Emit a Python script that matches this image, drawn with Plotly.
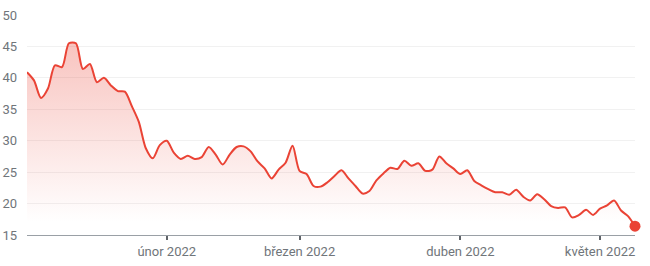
import pandas as pd
import plotly.graph_objects as go

# Trading days Jan 3 - May 9, 2022 (US market holidays removed)
holidays = ["2022-01-17", "2022-02-21", "2022-04-15"]
dates = [d.strftime("%Y-%m-%d") for d in pd.bdate_range("2022-01-03", "2022-05-09") if d.strftime("%Y-%m-%d") not in holidays]

values = [
    40.9, 39.6, 36.8, 38.3, 42.0, 41.7, 45.5, 45.5, 41.4, 42.2,
    39.3, 40.0, 38.8, 37.9, 37.8, 35.5, 33.0, 28.8, 27.2, 29.3,
    30.0, 28.1, 27.1, 27.6, 27.1, 27.4, 29.0, 27.8, 26.2, 27.8,
    29.0, 29.1, 28.3, 26.7, 25.6, 24.0, 25.4, 26.5, 29.2, 25.2,
    24.7, 22.8, 22.7, 23.4, 24.4, 25.3, 24.0, 22.8, 21.6, 22.0,
    23.7, 24.8, 25.7, 25.5, 26.8, 26.0, 26.4, 25.2, 25.4, 27.5,
    26.4, 25.6, 24.7, 25.3, 23.6, 22.9, 22.3, 21.8, 21.8, 21.4,
    22.2, 21.1, 20.5, 21.5, 20.7, 19.6, 19.3, 19.4, 17.8, 18.2,
    19.0, 18.2, 19.2, 19.7, 20.5, 18.9, 18.0, 16.4,
]

tick_dates = ["2022-02-01", "2022-03-01", "2022-04-01", "2022-05-02"]
tick_labels = ["únor 2022", "březen 2022", "duben 2022", "květen 2022"]
y_ticks = [15, 20, 25, 30, 35, 40, 45, 50]

RED = "#EA4335"

fig = go.Figure()
fig.add_trace(go.Scatter(
    x=dates, y=values, mode="lines",
    line=dict(color=RED, width=2, shape="spline", smoothing=0.8),
    fill="tozeroy",
    fillgradient=dict(type="vertical", start=17, stop=46,
                      colorscale=[[0, "rgba(234,67,53,0)"], [1, "rgba(234,67,53,0.32)"]]),
    hoverinfo="skip", showlegend=False,
))
fig.add_trace(go.Scatter(
    x=[dates[-1]], y=[values[-1]], mode="markers",
    marker=dict(color=RED, size=11), cliponaxis=False,
    hoverinfo="skip", showlegend=False,
))

fig.update_layout(
    width=650, height=266,
    margin=dict(l=27, r=15, t=15, b=31),
    paper_bgcolor="white", plot_bgcolor="white",
    font=dict(family="Roboto, Arial, sans-serif", size=13, color="#70757a"),
    xaxis=dict(
        type="category", range=[0, len(dates) - 1], automargin=False,
        tickmode="array", tickvals=tick_dates, ticktext=tick_labels,
        showgrid=False, showline=True, linecolor="#9aa0a6", linewidth=1,
        ticks="outside", ticklen=4, tickcolor="#5f6368", tickwidth=2,
        zeroline=False,
    ),
    yaxis=dict(
        range=[15, 50], tickvals=y_ticks, automargin=False,
        showgrid=True, gridcolor="#f1f1f1", gridwidth=1,
        zeroline=False, ticklabelstandoff=9,
    ),
)

fig.write_html("out.html")
